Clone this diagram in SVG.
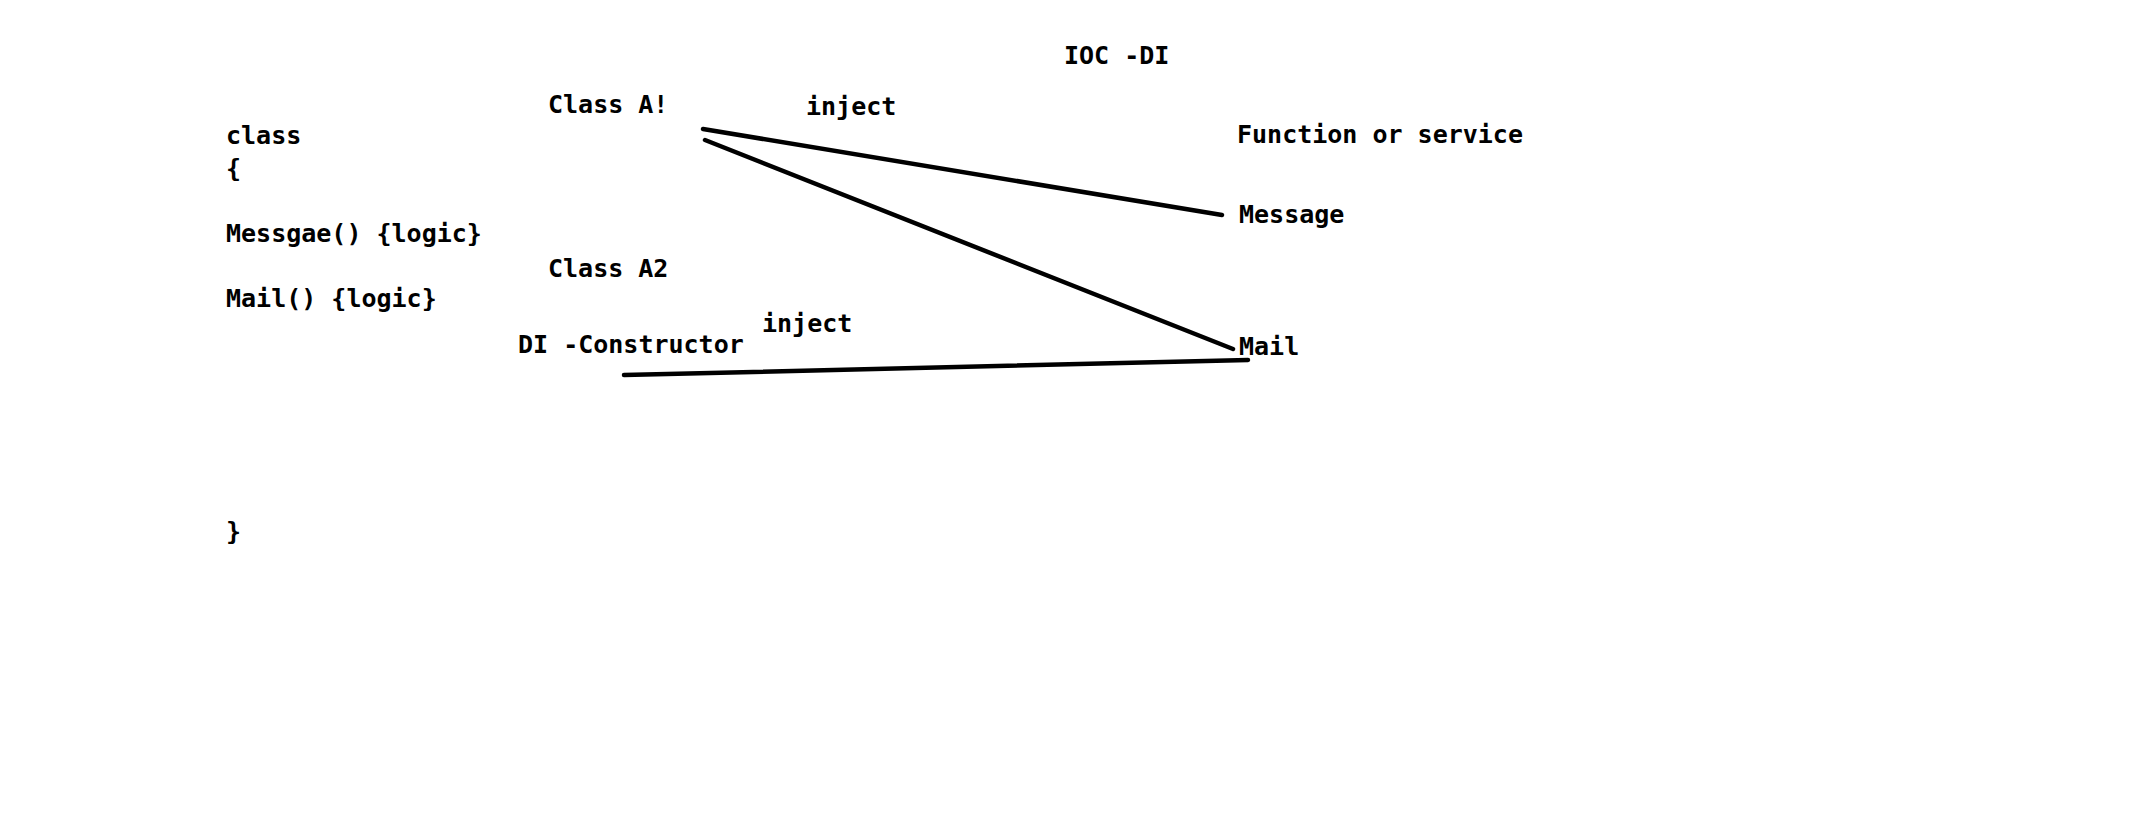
<svg xmlns="http://www.w3.org/2000/svg" width="2131" height="839" viewBox="0 0 2131 839">
<style>
text{font-family:"DejaVu Sans Mono","Liberation Mono",monospace;font-weight:bold;font-size:25px;fill:#000}
.c{stroke:#000;stroke-width:4.5;stroke-linecap:round;fill:none}
</style>
<rect width="2131" height="839" fill="#fff"/>
<g id="title"><text x="1064" y="64">IOC -DI</text></g>
<g id="code">
<text x="226" y="144">class</text>
<text x="226" y="177">{</text>
<text x="226" y="242">Messgae() {logic}</text>
<text x="226" y="307">Mail() {logic}</text>
<text x="226" y="540">}</text>
</g>
<g id="classA1"><text x="548" y="113">Class A!</text></g>
<g id="classA2"><text x="548" y="277">Class A2</text></g>
<g id="diConstructor"><text x="518" y="353">DI -Constructor</text></g>
<g id="functionOrService"><text x="1237" y="143">Function or service</text></g>
<g id="message"><text x="1239" y="223">Message</text></g>
<g id="mail"><text x="1239" y="355">Mail</text></g>
<g id="connectors">
<line class="c" x1="703" y1="129" x2="1222" y2="215"/>
<line class="c" x1="705" y1="140" x2="1233" y2="349"/>
<line class="c" x1="624" y1="375" x2="1248" y2="360"/>
<text x="806" y="115">inject</text>
<text x="762" y="332">inject</text>
</g>
</svg>
